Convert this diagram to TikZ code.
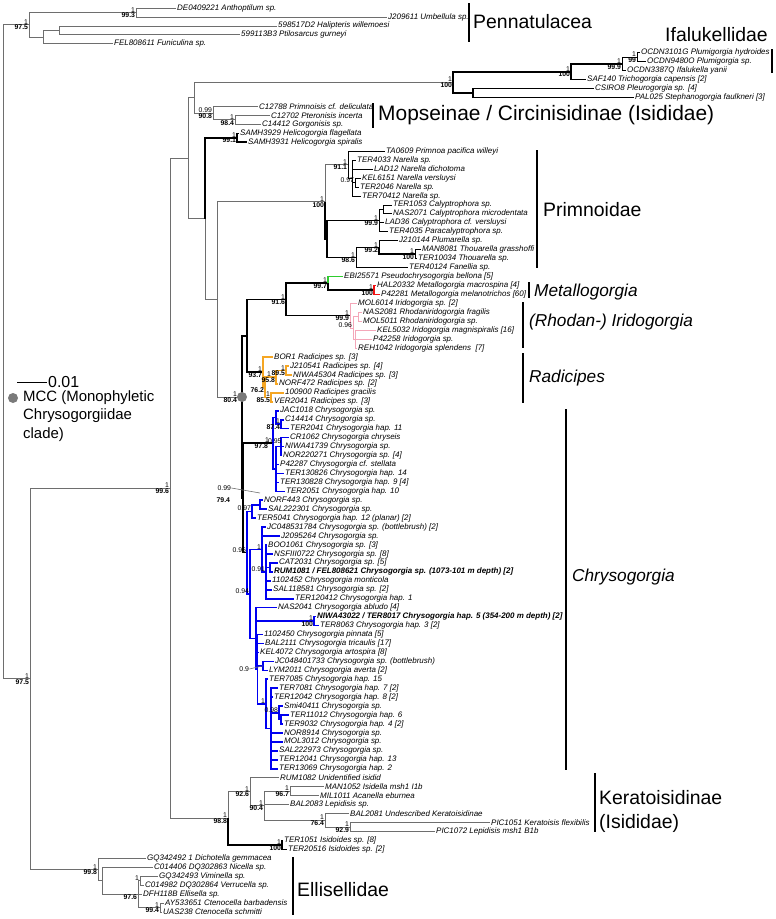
\documentclass[tikz,border=0pt]{standalone}
\usepackage{fontspec}
\setmainfont{Liberation Sans}
\usetikzlibrary{calc}
\definecolor{cgrey}{HTML}{6E6E6E}
\definecolor{cdot}{HTML}{7A7A7A}
\definecolor{cblue}{HTML}{0000F0}
\definecolor{corange}{HTML}{F5A623}
\definecolor{cpink}{HTML}{F4A7B9}
\definecolor{cred}{HTML}{F01010}
\definecolor{cgreen}{HTML}{2ECC2E}
\tikzset{
  leaf/.style={anchor=west, inner sep=1bp, font=\fontsize{8}{9}\selectfont\itshape},
  leafb/.style={leaf, font=\fontsize{8}{9}\selectfont\bfseries\itshape},
  pp/.style={anchor=south east, inner sep=0.2bp, xshift=-0.6bp, font=\fontsize{6.9}{7}\selectfont},
  bs/.style={anchor=north east, inner sep=0.2bp, xshift=-0.6bp, font=\fontsize{6.9}{7}\selectfont\bfseries},
  br/.style={draw=cgrey, line width=0.8bp},
  bk/.style={draw=black, line width=0.8bp},
  bkt/.style={draw=black, line width=1.6bp},
  blu/.style={draw=cblue, line width=1.6bp},
  org/.style={draw=corange, line width=1.4bp},
  pnk/.style={draw=cpink, line width=0.9bp},
  rd/.style={draw=cred, line width=1.8bp},
  grn/.style={draw=cgreen, line width=1.8bp},
  bar/.style={draw=black, line width=1.5bp},
  grp/.style={anchor=west, inner sep=0pt, font=\fontsize{19.5}{22}\selectfont},
  grpit/.style={grp, font=\fontsize{17.3}{19}\selectfont\itshape},
  mccdot/.style={circle, fill=cdot, inner sep=0pt, minimum size=10bp},
}
% internal node: name, x, first child, last child
\newcommand{\clade}[4]{\path let \p1=(#3), \p2=(#4) in coordinate (#1) at (#2,{0.5*\y1+0.5*\y2});}

\begin{document}
\begin{tikzpicture}[x=1bp, y=-1bp]
  \useasboundingbox (0,0) rectangle (776,919);
  \foreach \i/\tx/\nm in {
    1/176/{DE0409221 Anthoptilum sp.}, 2/387/{J209611 Umbellula sp.},
    3/277/{598517D2 Halipteris willemoesi}, 4/240/{599113B3 Ptilosarcus gurneyi},
    5/113/{FEL808611 Funiculina sp.}, 6/640/{OCDN3101G Plumigorgia hydroides},
    7/646/{OCDN9480O Plumigorgia sp.}, 8/626/{OCDN3387Q Ifalukella yanii},
    9/586/{SAF140 Trichogorgia capensis [2]}, 10/594/{CSIRO8 Pleurogorgia sp. [4]},
    11/634/{PAL025 Stephanogorgia faulkneri [3]}, 12/258/{C12788 Primnoisis cf. deliculata},
    13/270/{C12702 Pteronisis incerta}, 14/261/{C14412 Gorgonisis sp.},
    15/239/{SAMH3929 Helicogorgia flagellata}, 16/247/{SAMH3931 Helicogorgia spiralis},
    17/385/{TA0609 Primnoa pacifica willeyi}, 18/356/{TER4033 Narella sp.},
    19/373/{LAD12 Narella dichotoma}, 20/361/{KEL6151 Narella versluysi},
    21/359/{TER2046 Narella sp.}, 22/361/{TER70412 Narella sp.},
    23/392/{TER1053 Calyptrophora sp.}, 24/392/{NAS2071 Calyptrophora microdentata},
    25/384/{LAD36 Calyptrophora cf. versluysi}, 26/388/{TER4035 Paracalyptrophora sp.},
    27/398/{J210144 Plumarella sp.}, 28/421/{MAN8081 Thouarella grasshoffi},
    29/417/{TER10034 Thouarella sp.}, 30/408/{TER40124 Fanellia sp.},
    31/343/{EBI25571 Pseudochrysogorgia bellona [5]}, 32/376/{HAL20332 Metallogorgia macrospina [4]},
    33/380/{P42281 Metallogorgia melanotrichos [60]}, 34/357/{MOL6014 Iridogorgia sp. [2]},
    35/362/{NAS2081 Rhodaniridogorgia fragilis}, 36/362/{MOL5011 Rhodaniridogorgia sp.},
    37/376/{KEL5032 Iridogorgia magnispiralis [16]}, 38/372/{P42258 Iridogorgia sp.},
    39/357/{REH1042 Iridogorgia splendens~ [7]}, 40/273/{BOR1 Radicipes sp. [3]},
    41/289/{J210541 Radicipes sp. [4]}, 42/292/{NIWA45304 Radicipes sp. [3]},
    43/278/{NORF472 Radicipes sp. [2]}, 44/284/{100900 Radicipes gracilis},
    45/273/{VER2041 Radicipes sp. [3]}, 46/279/{JAC1018 Chrysogorgia sp.},
    47/284/{C14414 Chrysogorgia sp.}, 48/289/{TER2041 Chrysogorgia hap. 11},
    49/289/{CR1062 Chrysogorgia chryseis}, 50/284/{NIWA41739 Chrysogorgia sp.},
    51/282/{NOR220271 Chrysogorgia sp. [4]}, 52/279/{P42287 Chrysogorgia cf. stellata},
    53/284/{TER130826 Chrysogorgia hap. 14}, 54/279/{TER130828 Chrysogorgia hap. 9 [4]},
    55/285/{TER2051 Chrysogorgia hap. 10}, 56/263/{NORF443 Chrysogorgia sp.},
    57/267/{SAL222301 Chrysogorgia sp.}, 58/256/{TER5041 Chrysogorgia hap. 12 (planar) [2]},
    59/266/{JC048531784 Chrysogorgia sp. (bottlebrush) [2]}, 60/280/{J2095264 Chrysogorgia sp.},
    61/267/{BOO1061 Chrysogorgia sp. [3]}, 62/273/{NSFIII0722 Chrysogorgia sp. [8]},
    63/278/{CAT2031 Chrysogorgia sp. [5]}, 65/271/{1102452 Chrysogorgia monticola},
    66/272/{SAL118581 Chrysogorgia sp. [2]}, 67/294/{TER120412 Chrysogorgia hap. 1},
    68/277/{NAS2041 Chrysogorgia abludo [4]}, 70/319/{TER8063 Chrysogorgia hap. 3 [2]},
    71/263/{1102450 Chrysogorgia pinnata [5]}, 72/264/{BAL2111 Chrysogorgia tricaulis [17]},
    73/259/{KEL4072 Chrysogorgia artospira [8]}, 74/274/{JC048401733 Chrysogorgia sp. (bottlebrush)},
    75/268/{LYM2011 Chrysogorgia averta [2]}, 76/268/{TER7085 Chrysogorgia hap. 15},
    77/278/{TER7081 Chrysogorgia hap. 7 [2]}, 78/273/{TER12042 Chrysogorgia hap. 8 [2]},
    79/283/{Smi40411 Chrysogorgia sp.}, 80/289/{TER11012 Chrysogorgia hap. 6},
    81/283/{TER9032 Chrysogorgia hap. 4 [2]}, 82/283/{NOR8914 Chrysogorgia sp.},
    83/283/{MOL3012 Chrysogorgia sp.}, 84/278/{SAL222973 Chrysogorgia sp.},
    85/278/{TER12041 Chrysogorgia hap. 13}, 86/278/{TER13069 Chrysogorgia hap. 2},
    87/279/{RUM1082 Unidentified isidid}, 88/324/{MAN1052 Isidella msh1 I1b},
    89/319/{MIL1011 Acanella eburnea}, 90/289/{BAL2083 Lepidisis sp.},
    91/349/{BAL2081 Undescribed Keratoisidinae}, 92/490/{PIC1051 Keratoisis flexibilis},
    93/435/{PIC1072 Lepidisis msh1 B1b}, 94/283/{TER1051 Isidoides sp. [8]},
    95/287/{TER20516 Isidoides sp. [2]}, 96/146/{GQ342492 1 Dichotella gemmacea},
    97/153/{C014406 DQ302863 Nicella sp.}, 98/158/{GQ342493 Viminella sp.},
    99/144/{C014982 DQ302864 Verrucella sp.}, 100/142/{DFH118B Ellisella sp.},
    101/164/{AY533651 Ctenocella barbadensis}, 102/162/{UAS238 Ctenocella schmitti}}
    \node[leaf] (l\i) at (\tx,{8.95*\i-0.95}) {\nm};
  \node[leafb] (l64) at (273,{8.95*64-0.95}) {RUM1081 / FEL808621 Chrysogorgia sp. (1073-101 m depth) [2]};
  \node[leafb] (l69) at (316,{8.95*69-0.95}) {NIWA43022 / TER8017 Chrysogorgia hap. 5 (354-200 m depth) [2]};

  \clade{pA}{136}{l1}{l2}
  \clade{pB}{59}{l3}{l4}
  \clade{pC}{43}{pB}{l5}
  \clade{penn}{29}{pA}{pC}
  \clade{iA}{637}{l6}{l7}
  \clade{iB}{622}{iA}{l8}
  \clade{iC}{571}{iB}{l9}
  \clade{iD}{473}{l10}{l11}
  \clade{ifal}{453}{iC}{iD}
  \clade{mA}{235}{l13}{l14}
  \clade{mops}{213}{l12}{mA}
  \clade{eN}{194}{ifal}{mops}
  \clade{heli}{237}{l15}{l16}
  \clade{nA}{355}{l20}{l21}
  \clade{nar}{352}{l18}{l22}
  \clade{prA}{348}{l17}{nar}
  \clade{cA}{383}{l23}{l24}
  \clade{cal}{379}{cA}{l26}
  \clade{tA}{415}{l28}{l29}
  \clade{tB}{379}{l27}{tA}
  \clade{thou}{356}{tB}{l30}
  \clade{prB}{327}{cal}{thou}
  \clade{prim}{325}{prA}{prB}
  \clade{met}{374}{l32}{l33}
  \clade{metA}{328}{l31}{met}
  \clade{irA}{358}{l35}{l36}
  \clade{irB}{355}{l37}{l39}
  \clade{irC}{353}{irA}{irB}
  \clade{irid}{350}{l34}{irC}
  \clade{irc}{286}{metA}{irid}
  \clade{rA}{286}{l41}{l42}
  \clade{rB}{276}{rA}{l43}
  \clade{rC}{271}{l44}{l45}
  \clade{rD}{265}{rB}{rC}
  \clade{rad}{263}{l40}{rD}
  \clade{qN}{247}{irc}{rad}
  \clade{aA}{281}{l47}{l48}
  \clade{aB}{276}{l46}{aA}
  \clade{aC}{281}{l49}{l51}
  \clade{aD}{276}{aC}{l55}
  \clade{chrA}{273}{aB}{aD}
  \clade{bA}{260}{l56}{l57}
  \clade{bB}{252}{bA}{l58}
  \clade{bC}{270}{l63}{l64}
  \clade{bD}{266}{l61}{l67}
  \clade{bE}{262}{l59}{bD}
  \clade{bF}{314}{l69}{l70}
  \clade{bG}{263}{l74}{l75}
  \clade{bH}{281}{l80}{l81}
  \clade{bI}{279}{l79}{bH}
  \clade{bJ}{271}{l77}{l86}
  \clade{bK}{266}{l76}{bJ}
  \clade{bL}{257.5}{l71}{bK}
  \clade{bM}{256}{l68}{bL}
  \clade{bN}{250}{bE}{bM}
  \clade{chrB}{247}{bB}{bN}
  \clade{chr}{243}{chrA}{chrB}
  \coordinate (mcc) at (242,397);
  \clade{gN}{217}{prim}{mcc}
  \clade{fN}{205}{heli}{gN}
  \clade{dN}{188}{eN}{fN}
  \clade{kA}{290}{l88}{l89}
  \clade{kB}{350}{l92}{l93}
  \clade{kC}{325}{l91}{kB}
  \clade{kD}{264}{kA}{kC}
  \clade{ker}{250}{l87}{kD}
  \clade{isi}{282}{l94}{l95}
  \clade{kN}{228}{ker}{isi}
  \clade{cN}{170}{dN}{kN}
  \clade{eA}{140}{l98}{l99}
  \clade{eB}{160}{l101}{l102}
  \clade{eC}{138}{eA}{eB}
  \clade{eD}{102}{l97}{eC}
  \clade{ell}{98}{l96}{eD}
  \clade{inN}{30}{cN}{ell}
  \clade{root}{3}{penn}{inN}

  \foreach \p/\c in {root/penn, root/inN, penn/pA, penn/pC, pA/l1, pA/l2, pC/pB, pC/l5, pB/l3, pB/l4,
      inN/cN, inN/ell, ell/l96, ell/eD, eD/l97, eD/eC, eC/eA, eC/l100, eC/eB, eA/l98, eA/l99,
      eB/l101, eB/l102, cN/dN, cN/kN, kN/ker, ker/l87, ker/kD, kD/kA, kD/l90, kD/kC, kA/l88,
      kA/l89, kC/l91, kC/kB, kB/l92, kB/l93, dN/eN, dN/fN, eN/ifal, eN/mops, mops/l12, mops/mA,
      mA/l13, mA/l14, fN/gN, gN/prim, gN/mcc, prim/prA}
    \draw[br] (\p) |- (\c);
  \foreach \p/\c in {iB/iA, iB/l8, iA/l6, iA/l7, prA/l17, prA/nar, nar/l18, nar/l19, nar/nA, nar/l22,
      nA/l20, nA/l21, cal/cA, cal/l25, cal/l26, cA/l23, cA/l24, thou/tB, thou/l30, tB/l27,
      tA/l28, tA/l29}
    \draw[bk] (\p) |- (\c);
  \foreach \p/\c in {ifal/iC, ifal/iD, iD/l10, iD/l11, iC/l9, iC/iB, fN/heli, heli/l15, heli/l16,
      prim/prB, prB/cal, prB/thou, tB/tA, mcc/qN, mcc/chr, qN/irc, qN/rad, irc/metA, irc/irid,
      metA/met, chr/chrA, chr/chrB, kN/isi, isi/l94, isi/l95}
    \draw[bkt] (\p) |- (\c);
  \draw[grn] (metA) |- (l31);
  \foreach \c in {l32, l33} \draw[rd] (met) |- (\c);
  \foreach \p/\c in {irid/l34, irid/irC, irC/irA, irC/irB, irA/l35, irA/l36, irB/l37, irB/l38, irB/l39}
    \draw[pnk] (\p) |- (\c);
  \foreach \p/\c in {rad/l40, rad/rD, rD/rB, rD/rC, rB/rA, rB/l43, rA/l41, rA/l42, rC/l44, rC/l45}
    \draw[org] (\p) |- (\c);
  \foreach \p/\c in {chrA/aB, chrA/aD, aB/l46, aB/aA, aA/l47, aA/l48, aD/aC, aD/l52, aD/l53, aD/l54,
      aD/l55, aC/l49, aC/l50, aC/l51, chrB/bB, chrB/bN, bB/bA, bB/l58, bA/l56, bA/l57, bN/bE,
      bN/bM, bE/l59, bE/l60, bE/bD, bD/l61, bD/l62, bD/bC, bD/l65, bD/l66, bD/l67, bC/l63, bC/l64,
      bM/l68, bM/bF, bM/bL, bF/l69, bF/l70, bL/l71, bL/l72, bL/l73, bL/bG, bL/bK, bG/l74, bG/l75,
      bK/l76, bK/bJ, bJ/l77, bJ/l78, bJ/bI, bJ/l82, bJ/l83, bJ/l84, bJ/l85, bJ/l86, bI/l79, bI/bH,
      bH/l80, bH/l81}
    \draw[blu] (\p) |- (\c);

  \foreach \nd/\a/\b in {pA/1/99.3, penn/1/97.5, iA/1/99, iB/1/99.9, iC/1/100, ifal/1/100,
      mA/1/98.4, mops/0.99/90.8, heli/1/99.1, prim/1/100, prA/1/91.1, nA/0.97/, cal/1/99.9,
      thou/1/98.6, tB/1/99.2, tA/1/100, metA/1/99.7, met/1/100, irc/1/91.6, irid/1/99.9,
      irC/0.96/, rad/1/93.7, rD//76.2, rA/1/89.5, rC/1/85.5, aA/1/87.4,
      bB/0.97/, chrB/0.96/, bN/0.94/, bE/1/, bD/0.91/, bF/1/100, bK/1/, bI/0.98/,
      cN/1/99.6, kN/1/98.8, ker/1/92.6, kD/1/90.4, kA/1/96.7, kC/1/76.4, kB/1/92.9, isi/1/100,
      inN/1/97.5, ell/1/99.8, eA/1/, eC//97.6, eB/1/99.4}
    {\node[pp] (\nd-p) at (\nd) {\a}; \node[bs] (\nd-b) at (\nd) {\b};}
  \node[pp, xshift=-4bp] (rB-p) at (rB) {1};
  \node[bs] (rB-b) at (rB) {95.8};
  \node[pp, xshift=-3bp] (chrA-p) at (chrA) {1};
  \node[bs, xshift=-4bp] (chrA-b) at (chrA) {97.8};
  \node[pp, xshift=1.5bp, yshift=2.5bp] (aC-p) at (aC) {0.95};
  \node[pp, xshift=-4bp] (mcc-p) at (mcc) {1};
  \node[bs, xshift=-4bp] (mcc-b) at (mcc) {80.4};
  \node[pp, anchor=east] (bA-p) at (232,488) {0.99};
  \node[bs, anchor=east] (bA-b) at (231,500) {79.4};
  \coordinate (bAtip) at (260,493);
  \draw[draw=cgrey, line width=0.6bp] (bA-p.east) -- (bAtip);
  \node[pp, anchor=east] (bG-p) at (250,669) {0.9};
  \draw[draw=cgrey, line width=0.6bp] (bG-p.east) -- (bG);
  \node[mccdot] (mccDot) at (mcc) {};

  \draw[bar] (469,3) -- (469,42);
  \draw[bar] (772,49) -- (772,73);
  \draw[bar] (373,103) -- (373,128);
  \draw[bar] (537,150) -- (537,268);
  \draw[bar] (529,282) -- (529,298);
  \draw[bar] (523,302) -- (523,348);
  \draw[bar] (523,353) -- (523,403);
  \draw[bar] (566,409) -- (566,770);
  \draw[bar] (595,773) -- (595,832);
  \draw[bar] (293,857) -- (293,915);
  \node[grp] (tPenn) at (473,22) {Pennatulacea};
  \node[grp, anchor=east] (tIfal) at (768,35) {Ifalukellidae};
  \node[grp, font=\fontsize{21}{23}\selectfont] (tMops) at (378,115) {Mopseinae / Circinisidinae (Isididae)};
  \node[grp] (tPrim) at (543,210) {Primnoidae};
  \node[grpit] (tMeta) at (534,292) {Metallogorgia};
  \node[grpit] (tIrid) at (529,322) {(Rhodan-) Iridogorgia};
  \node[grpit] (tRadi) at (529,378) {Radicipes};
  \node[grpit] (tChry) at (572,577) {Chrysogorgia};
  \node[grp] (tKera) at (599,798) {Keratoisidinae};
  \node[grp] (tKera2) at (599,823) {(Isididae)};
  \node[grp] (tElli) at (297,890) {Ellisellidae};

  \coordinate (sbL) at (17,382);
  \coordinate (sbR) at (47,382);
  \draw[bk] (sbL) -- (sbR);
  \node[anchor=west, inner sep=1bp, font=\fontsize{16}{18}\selectfont] (sbT) at (sbR) {0.01};
  \node[mccdot] (legDot) at (13,398) {};
  \node[anchor=west, inner sep=0pt, font=\fontsize{15}{17}\selectfont] (leg1) at (23,398) {MCC (Monophyletic};
  \node[anchor=west, inner sep=0pt, font=\fontsize{15}{17}\selectfont] (leg2) at (23,416) {Chrysogorgiidae};
  \node[anchor=west, inner sep=0pt, font=\fontsize{15}{17}\selectfont] (leg3) at (23,435) {clade)};
\end{tikzpicture}
\end{document}
